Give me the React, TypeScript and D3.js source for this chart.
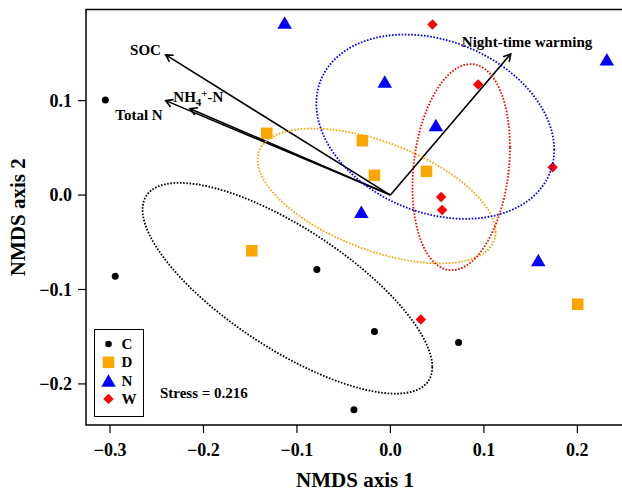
import React from "react";
import * as d3 from "d3";

// ---- data ----
const GROUPS = ["C", "D", "N", "W"];
const GROUP_COLORS = ["#000000", "#FFA500", "#0000FF", "#FF0000"];

const cX = [-0.305, -0.2944, -0.0787, -0.0171, 0.0729, -0.039];
const cY = [0.1007, -0.0859, -0.0788, -0.1446, -0.1562, -0.2273];
const dX = [-0.1323, -0.030, -0.0171, 0.0386, -0.1483, 0.2004];
const dY = [0.0654, 0.0576, 0.0209, 0.0251, -0.059, -0.1156];
const nX = [-0.1132, -0.0061, 0.0486, -0.0311, 0.2315, 0.1582];
const nY = [0.1827, 0.1202, 0.0742, -0.0177, 0.1439, -0.0689];
const wX = [0.045, 0.0939, 0.0542, 0.0553, 0.1736, 0.0325];
const wY = [0.1806, 0.117, -0.0021, -0.0159, 0.0294, -0.1318];

const GROUP_X = [cX, dX, nX, wX];
const GROUP_Y = [cY, dY, nY, wY];

const ENV_NAMES = ["SOC", "NH4+-N", "Total N", "Night-time warming"];
const ENV_X = [-0.2404, -0.2144, -0.2404, 0.1287];
const ENV_Y = [0.1484, 0.0915, 0.1, 0.1494];

const X_TICKS = [-0.3, -0.2, -0.1, 0.0, 0.1, 0.2];
const Y_TICKS = [-0.2, -0.1, 0.0, 0.1];

const STRESS = 0.216;

// ---- layout ----
const W = 622;
const H = 492;
const PL = 86, PR = 624, PT = 9.5, PB = 425;
const FONT = "'Liberation Serif', 'Times New Roman', serif";

const x = d3.scaleLinear().domain([-0.3257, 0.2499]).range([PL, PR]);
const y = d3.scaleLinear().domain([-0.2435, 0.1965]).range([PB, PT]);

// label anchors in data coordinates
const ENV_LABEL_X = [-0.262, -0.2323, -0.269, 0.1462];
const ENV_LABEL_Y = [0.1484, 0.0986, 0.0795, 0.1568];
const ENV_LABEL_ANCHOR = ["middle", "start", "middle", "middle"];
const STRESS_POS = [-0.2466, -0.2146];

const fmt = (v: number) => {
  const s = Math.abs(v).toFixed(1);
  return v < -1e-9 ? "\u2212" + s : s;
};

function symbolPath(g: number, px: number, py: number, legend = false): JSX.Element {
  const col = GROUP_COLORS[g];
  if (g === 0) return <circle cx={px} cy={py} r={legend ? 3.3 : 3.5} fill={col} />;
  if (g === 1) {
    const s = 11.5;
    return <rect x={px - s / 2} y={py - s / 2} width={s} height={s} fill={col} />;
  }
  if (g === 2) {
    const w = 14.5, h = 12.5;
    return (
      <path
        d={`M${px},${py - h / 2}L${px + w / 2},${py + h / 2}L${px - w / 2},${py + h / 2}Z`}
        fill={col}
      />
    );
  }
  const r = 5.2;
  return (
    <path
      d={`M${px},${py - r}L${px + r},${py}L${px},${py + r}L${px - r},${py}Z`}
      fill={col}
    />
  );
}

function ellipsePoints(xs: number[], ys: number[]): [number, number][] {
  const n = xs.length;
  const mx = d3.mean(xs)!;
  const my = d3.mean(ys)!;
  let sxx = 0, syy = 0, sxy = 0;
  for (let i = 0; i < n; i++) {
    sxx += (xs[i] - mx) ** 2;
    syy += (ys[i] - my) ** 2;
    sxy += (xs[i] - mx) * (ys[i] - my);
  }
  sxx /= n - 1;
  syy /= n - 1;
  sxy /= n - 1;
  const sdx = Math.sqrt(sxx);
  const sdy = Math.sqrt(syy);
  const r = sxy / (sdx * sdy);
  const pts: [number, number][] = [];
  const N = 120;
  for (let k = 0; k <= N; k++) {
    const t = (2 * Math.PI * k) / N;
    const ex = mx + sdx * Math.cos(t);
    const ey = my + sdy * (r * Math.cos(t) + Math.sqrt(1 - r * r) * Math.sin(t));
    pts.push([x(ex), y(ey)]);
  }
  return pts;
}

function Arrow({ i }: { i: number }) {
  const x0 = x(0), y0 = y(0);
  const x1 = x(ENV_X[i]), y1 = y(ENV_Y[i]);
  const ang = Math.atan2(y1 - y0, x1 - x0);
  const L = 8;
  const a = Math.PI / 6;
  const h1 = [x1 - L * Math.cos(ang - a), y1 - L * Math.sin(ang - a)];
  const h2 = [x1 - L * Math.cos(ang + a), y1 - L * Math.sin(ang + a)];
  return (
    <g stroke="#000" strokeWidth={1.6} fill="none">
      <line x1={x0} y1={y0} x2={x1} y2={y1} />
      <path d={`M${h1[0]},${h1[1]}L${x1},${y1}L${h2[0]},${h2[1]}`} />
    </g>
  );
}

function EnvLabel({ i }: { i: number }) {
  const lx = x(ENV_LABEL_X[i]);
  const ly = y(ENV_LABEL_Y[i]);
  const anchor = ENV_LABEL_ANCHOR[i] as any;
  if (ENV_NAMES[i] === "NH4+-N") {
    return (
      <text x={lx} y={ly} textAnchor={anchor} fontSize={15} fontWeight="bold" fontFamily={FONT}>
        NH
        <tspan fontSize={11} dy={4}>4</tspan>
        <tspan fontSize={11} dy={-9}>+</tspan>
        <tspan dy={5}>-N</tspan>
      </text>
    );
  }
  return (
    <text x={lx} y={ly} textAnchor={anchor} fontSize={15} fontWeight="bold" fontFamily={FONT}>
      {ENV_NAMES[i]}
    </text>
  );
}

export default function App() {
  const line = d3.line();
  return (
    <svg
      width={W}
      height={H}
      style={{ position: "absolute", left: 0, top: 0, background: "#fff" }}
    >
      <rect x={0} y={0} width={W} height={H} fill="#fff" />
      <defs>
        <clipPath id="plotclip">
          <rect x={PL} y={PT} width={PR - PL} height={PB - PT} />
        </clipPath>
      </defs>

      {/* points */}
      <g clipPath="url(#plotclip)">
        {GROUPS.map((_, g) =>
          GROUP_X[g].map((vx, j) => (
            <g key={`p${g}-${j}`}>{symbolPath(g, x(vx), y(GROUP_Y[g][j]))}</g>
          ))
        )}
      </g>

      {/* arrows */}
      {ENV_NAMES.map((_, i) => (
        <Arrow key={`a${i}`} i={i} />
      ))}
      {ENV_NAMES.map((_, i) => (
        <EnvLabel key={`l${i}`} i={i} />
      ))}

      {/* ellipses */}
      <g clipPath="url(#plotclip)">
        {GROUPS.map((_, g) => (
          <path
            key={`e${g}`}
            d={line(ellipsePoints(GROUP_X[g], GROUP_Y[g]))!}
            fill="none"
            stroke={GROUP_COLORS[g]}
            strokeWidth={1.8}
            strokeDasharray="1.6 1.6"
          />
        ))}
      </g>

      {/* box */}
      <rect x={PL} y={PT} width={PR - PL} height={PB - PT} fill="none" stroke="#000" strokeWidth={1.5} />

      {/* x axis */}
      {X_TICKS.map((t) => (
        <g key={`xt${t}`}>
          <line x1={x(t)} x2={x(t)} y1={PB} y2={PB + 8} stroke="#000" strokeWidth={1.2} />
          <text x={x(t)} y={456} textAnchor="middle" fontSize={18} fontWeight="bold" fontFamily={FONT}>
            {fmt(t)}
          </text>
        </g>
      ))}
      {/* y axis */}
      {Y_TICKS.map((t) => (
        <g key={`yt${t}`}>
          <line x1={PL - 8} x2={PL} y1={y(t)} y2={y(t)} stroke="#000" strokeWidth={1.2} />
          <text
            x={72}
            y={y(t)}
            dy="0.35em"
            textAnchor="end"
            fontSize={18}
            fontWeight="bold"
            fontFamily={FONT}
          >
            {fmt(t)}
          </text>
        </g>
      ))}

      <text x={355} y={487} textAnchor="middle" fontSize={21} fontWeight="bold" fontFamily={FONT}>
        NMDS axis 1
      </text>
      <text
        transform={`translate(25,${(PT + PB) / 2}) rotate(-90)`}
        textAnchor="middle"
        fontSize={21}
        fontWeight="bold"
        fontFamily={FONT}
      >
        NMDS axis 2
      </text>

      {/* stress */}
      <text x={x(STRESS_POS[0])} y={y(STRESS_POS[1])} fontSize={15} fontWeight="bold" fontFamily={FONT}>
        {`Stress = ${STRESS.toFixed(3)}`}
      </text>

      {/* legend */}
      <rect x={94.5} y={329.5} width={49} height={87} fill="#fff" stroke="#000" strokeWidth={1} />
      {GROUPS.map((gname, g) => {
        const cy = 344 + g * 18.3;
        return (
          <g key={`lg${g}`}>
            {symbolPath(g, 108.5, cy, true)}
            <text x={121.5} y={cy + 5} fontSize={15} fontWeight="bold" fontFamily={FONT}>
              {gname}
            </text>
          </g>
        );
      })}
    </svg>
  );
}
